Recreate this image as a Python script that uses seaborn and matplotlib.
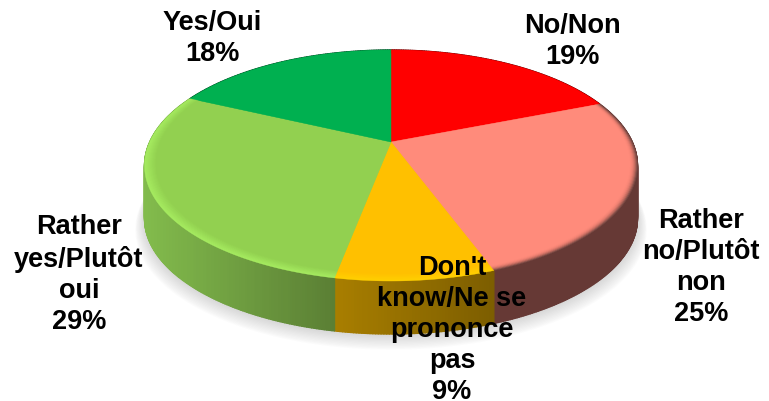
import numpy as np
import matplotlib
matplotlib.use("Agg")
import matplotlib.pyplot as plt
from matplotlib.collections import PolyCollection
import seaborn as sns

# ---- data ----
categories = ["No/Non", "Rather\nno/Plutôt\nnon", "Don't\nknow/Ne se\nprononce\npas",
              "Rather\nyes/Plutôt\noui", "Yes/Oui"]
values = [19, 25.4, 8.6, 29, 18]
top_colors = ["#ff0000", "#ff8b7b", "#ffc000", "#92d050", "#00b050"]

# ---- style ----
side_ramps = [("#7f0000", "#7f0000"), ("#663935", "#663935"), ("#a87e00", "#7c5d00"),
              ("#82bb4c", "#5a7e34"), ("#00582a", "#00582a")]
rim_ramps = [("#ff0000", "#ff0000"),
             ("#7a4a44", "#c46c60", "#f08273", "#ff8b7b", "#ff8b7b", "#ff8b7b"),
             ("#ffd000", "#ffc000"),
             ("#a6ec60", "#92d050"),
             ("#00b050", "#00b050")]
label_pos = [(572, 41.5), (701, 267.5), (452, 330), (79, 274.5), (212, 38.5)]

CX, APEX_Y, A, B, K, DEPTH = 391, 142, 241.3, 110.7, 0.2035, 53
RIM = 0.955

sns.set_theme(style="white")
plt.rcParams["font.family"] = ["Liberation Sans", "DejaVu Sans"]


def project(theta, r=1.0):
    """Perspective view of a point of the pie's disc (theta clockwise from top)."""
    u, v = r * np.sin(theta), r * np.cos(theta)
    w = 1 + K * v
    return CX + A * u / w, APEX_Y - B * v / w


fig = plt.figure(figsize=(7.69, 4.01), dpi=100, facecolor="white")
ax = fig.add_axes([0, 0, 1, 1])
ax.set_xlim(0, 769)
ax.set_ylim(401, 0)
ax.axis("off")

edges = np.radians(np.concatenate([[0], np.cumsum(values)]) * 3.6)
circle = np.linspace(0, 2 * np.pi, 361)

# soft shadow below the disc
for i in range(12, 0, -1):
    x, y = project(circle, 1 + 0.003 * i)
    ax.fill(x, y + DEPTH + 0.7 * i + 1, color="#606060", alpha=0.02, lw=0, zorder=1)

# side wall, shaded horizontally
for k in range(len(values)):
    th = np.linspace(edges[k], edges[k + 1], max(3, int(np.degrees(edges[k + 1] - edges[k])) * 2))
    x, y = project(th)
    ramp = sns.blend_palette(side_ramps[k], 64)
    lo, hi = x.min(), x.max()
    quads, cols = [], []
    for j in range(len(th) - 1):
        quads.append([(x[j], y[j]), (x[j + 1], y[j + 1]),
                      (x[j + 1], y[j + 1] + DEPTH), (x[j], y[j] + DEPTH)])
        cols.append(ramp[int(63 * ((x[j] + x[j + 1]) / 2 - lo) / max(hi - lo, 1))])
    ax.add_collection(PolyCollection(quads, facecolors=cols, edgecolors=cols, linewidths=1.0, zorder=2))

# top surface: bevelled rim layers, then the flat face
radii = np.linspace(1, RIM, 12)
for i, r in enumerate(radii):
    for k in range(len(values)):
        ramp = sns.blend_palette(rim_ramps[k], len(radii))
        col = top_colors[k] if i == len(radii) - 1 else ramp[i]
        th = np.linspace(edges[k], edges[k + 1], 160)
        x, y = project(th, r)
        ax.fill(np.r_[CX, x], np.r_[APEX_Y, y], color=col, lw=0.3, zorder=3 + i * 0.01)

# labels
for cat, val, (lx, ly) in zip(categories, values, label_pos):
    ax.text(lx, ly, f"{cat}\n{val:.0f}%", ha="center", va="center", multialignment="center",
            fontsize=19.5, fontweight="bold", color="black", linespacing=1.26, zorder=5)

fig.savefig("out.png", dpi=100, facecolor="white")
